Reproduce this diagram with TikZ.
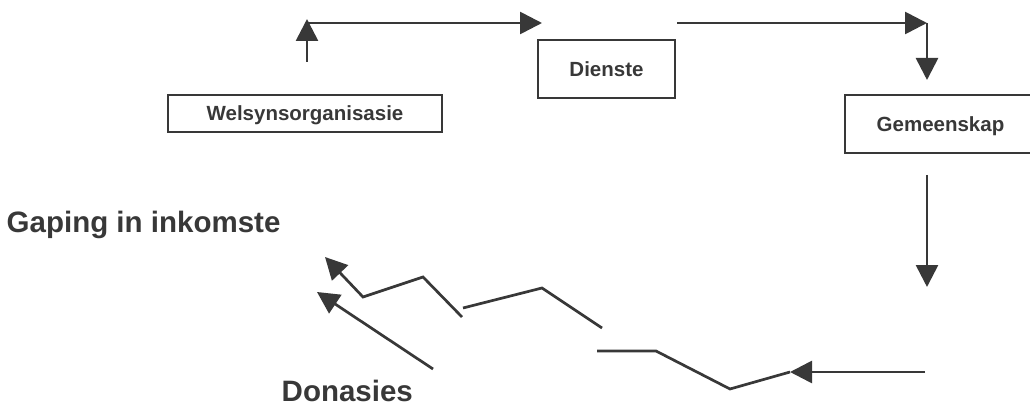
\documentclass[tikz,border=0pt]{standalone}
\usepackage{fontspec}
\setmainfont{Liberation Sans}
\usetikzlibrary{arrows.meta}
\definecolor{ink}{HTML}{383838}
\begin{document}
\begin{tikzpicture}[x=1pt,y=-1pt,
  boxnode/.style={draw=ink, line width=2pt, rectangle, inner sep=0pt,
    font=\bfseries\fontsize{20.5}{24}\selectfont, text=ink,
    text height=14.6pt, text depth=0pt},
  flow/.style={draw=ink, line width=2.7pt, -{Triangle[length=22pt,width=22pt]}},
  zig/.style={draw=ink, line width=2.7pt, line join=miter, line cap=butt},
  biglabel/.style={font=\bfseries\fontsize{29.5}{34}\selectfont, text=ink,
    inner sep=0pt, anchor=base west, text depth=0pt}]
\useasboundingbox (0,0) rectangle (1030,406);
\clip (0,0) rectangle (1030,406);

% boxes
\node[boxnode, minimum width=274pt, minimum height=37pt] (welsyn) at (305,113.5) {Welsynsorganisasie};
\node[boxnode, minimum width=137pt, minimum height=58pt] (dienste) at (606.5,69) {Dienste};
\node[boxnode, minimum width=191pt, minimum height=58pt] (gemeen) at (940.5,124) {Gemeenskap};

% free labels
\node[biglabel, text depth=6pt] (gaping) at (6.5,232) {Gaping in inkomste};
\node[biglabel] (donasies) at (281.5,401) {Donasies};

% flow points
\coordinate (w0) at (307,62);
\coordinate (w1) at (307,19);
\coordinate (w2) at (307,23);
\coordinate (d0) at (542,23);
\coordinate (d1) at (677,23);
\coordinate (c0) at (927,23);
\coordinate (c1) at (927,80);
\coordinate (g0) at (927,175);
\coordinate (g1) at (927,287);
\coordinate (b0) at (925,372);
\coordinate (b1) at (790,372);
\coordinate (b2) at (730,389);
\coordinate (b3) at (656,351);
\coordinate (b4) at (597,351);
\coordinate (m0) at (602,328);
\coordinate (m1) at (542,288);
\coordinate (m2) at (463,308);
\coordinate (u0) at (462,317);
\coordinate (u1) at (423,277);
\coordinate (u2) at (363,297);
\coordinate (u3) at (325,257);
\coordinate (n0) at (433,369);
\coordinate (n1) at (317,292);

% arrows of the cycle
\draw[flow] (w0) -- (w1);
\draw[flow] (w2) -- (d0);
\draw[flow] (d1) -- (c0);
\draw[flow] (c0) -- (c1);
\draw[flow] (g0) -- (g1);
\draw[flow] (b0) -- (b1);

% broken income line
\draw[zig] (b1) -- (b2) -- (b3) -- (b4);
\draw[zig] (m0) -- (m1) -- (m2);
\draw[zig, -{Triangle[length=22pt,width=22pt]}] (u0) -- (u1) -- (u2) -- (u3);
\draw[flow] (n0) -- (n1);
\end{tikzpicture}
\end{document}
